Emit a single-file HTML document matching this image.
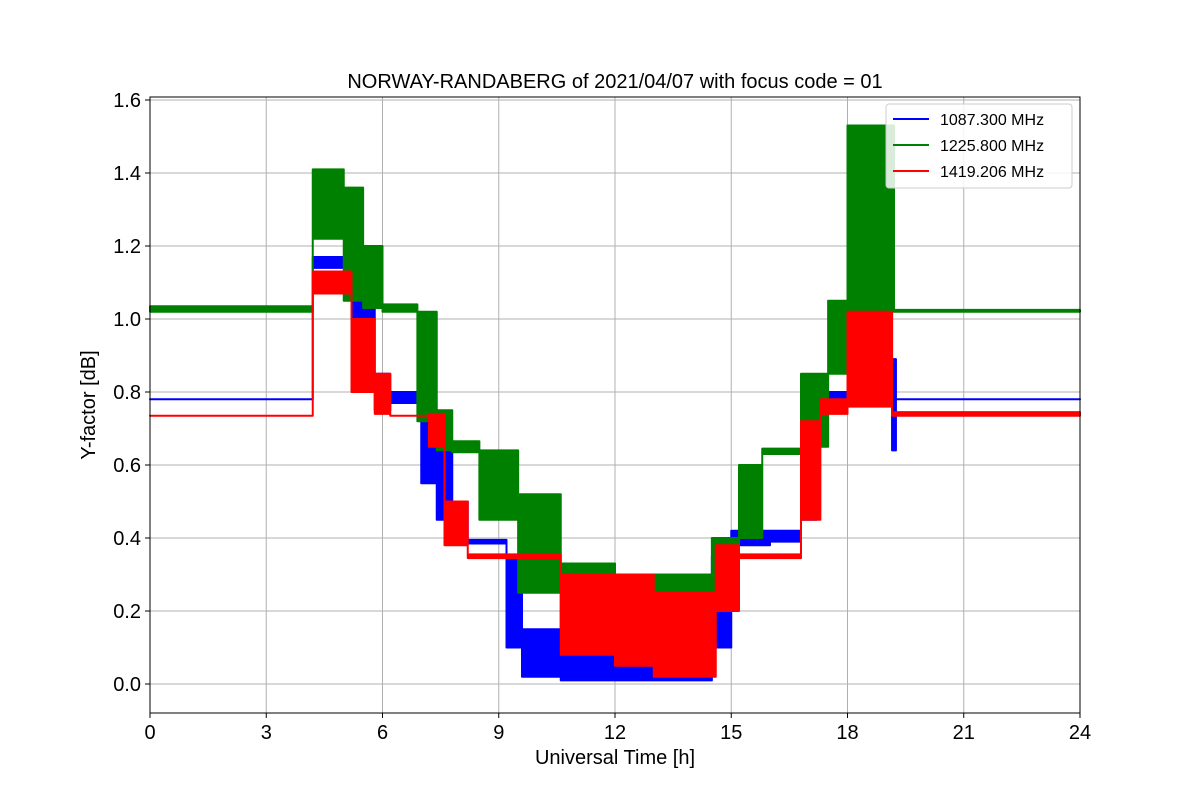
<!DOCTYPE html>
<html><head><meta charset="utf-8">
<style>
body{margin:0;background:#fff;}
svg text{font-family:"Liberation Sans","DejaVu Sans",sans-serif;}
</style></head>
<body>
<svg id="chart" width="1200" height="800" xmlns="http://www.w3.org/2000/svg">
<rect width="1200" height="800" fill="#fff"/>
<text x="615" y="88" font-size="20" text-anchor="middle">NORWAY-RANDABERG of 2021/04/07 with focus code = 01</text>
<g id="grid"></g>
<g id="series"></g>
<rect x="150" y="97" width="930" height="616" fill="none" stroke="#000" stroke-width="1"/>
<g id="ticks"></g>
<text x="615" y="764" font-size="20" text-anchor="middle">Universal Time [h]</text>
<text x="95" y="405" font-size="20" text-anchor="middle" transform="rotate(-90 95 405)">Y-factor [dB]</text>
<g>
<rect x="886" y="104" width="186" height="84" rx="3" fill="#fff" fill-opacity="0.85" stroke="#ccc"/>
<line x1="893" y1="119" x2="929" y2="119" stroke="#0000ff" stroke-width="2"/>
<text x="940" y="125" font-size="16">1087.300 MHz</text>
<line x1="893" y1="145" x2="929" y2="145" stroke="#008000" stroke-width="2"/>
<text x="940" y="151" font-size="16">1225.800 MHz</text>
<line x1="893" y1="171" x2="929" y2="171" stroke="#ff0000" stroke-width="2"/>
<text x="940" y="177" font-size="16">1419.206 MHz</text>
</g>
</svg>
<script>
const xTicks=[0,3,6,9,12,15,18,21,24];
const yTicks=[0.0,0.2,0.4,0.6,0.8,1.0,1.2,1.4,1.6];
const blueT=[0,4.2,5.2,5.5,5.8,6.2,7.0,7.4,7.8,8.2,9.2,9.6,10.6,12,14.5,15,16,16.8,17.2,18,19.15,19.25,24];
const blueLo=[0.78,1.14,0.95,0.9,0.75,0.77,0.55,0.45,0.4,0.385,0.1,0.02,0.01,0.01,0.1,0.38,0.39,0.45,0.77,0.8,0.64,0.78];
const blueHi=[0.78,1.17,1.08,1.05,0.85,0.8,0.75,0.65,0.5,0.395,0.35,0.15,0.2,0.2,0.35,0.42,0.42,0.7,0.8,1.2,0.89,0.78];
const greenT=[0,4.2,5.0,5.5,6.0,6.9,7.4,7.8,8.5,9.5,10.6,12,14.5,15.2,15.8,16.8,17.5,18,19.2,24];
const greenLo=[1.02,1.22,1.05,1.03,1.02,0.72,0.64,0.635,0.45,0.25,0.2,0.15,0.25,0.4,0.63,0.65,0.85,1.02,1.02];
const greenHi=[1.035,1.41,1.36,1.2,1.04,1.02,0.75,0.665,0.64,0.52,0.33,0.3,0.4,0.6,0.645,0.85,1.05,1.53,1.025];
const redT=[0,4.2,5.2,5.8,6.2,7.2,7.6,8.2,10.6,12,13,14.6,15.2,16.8,17.3,18,19.15,24];
const redLo=[0.735,1.07,0.8,0.74,0.735,0.65,0.38,0.345,0.08,0.05,0.02,0.2,0.345,0.45,0.74,0.76,0.735];
const redHi=[0.735,1.13,1.0,0.85,0.735,0.74,0.5,0.355,0.3,0.3,0.25,0.38,0.355,0.72,0.78,1.02,0.745];
const X=t=>150+t*930/24;
const Y=v=>684-v*365;
const NS='http://www.w3.org/2000/svg';
const grid=document.getElementById('grid'),ticks=document.getElementById('ticks'),ser=document.getElementById('series');
function mk(tag,attrs,parent){const e=document.createElementNS(NS,tag);for(const k in attrs)e.setAttribute(k,attrs[k]);parent.appendChild(e);return e;}
xTicks.forEach(t=>{
 const g=mk('line',{x1:X(t),x2:X(t),y1:97,y2:713,stroke:'#b0b0b0','stroke-width':1},grid);
 
 
 mk('line',{x1:X(t),x2:X(t),y1:713,y2:718,stroke:'#000'},ticks);
 const l=mk('text',{x:X(t),y:739,'font-size':20,'text-anchor':'middle'},ticks);
 l.textContent=t;
 
 
});
yTicks.forEach(v=>{
 const g=mk('line',{x1:150,x2:1080,y1:Y(v),y2:Y(v),stroke:'#b0b0b0','stroke-width':1},grid);
 
 
 mk('line',{x1:145,x2:150,y1:Y(v),y2:Y(v),stroke:'#000'},ticks);
 const l=mk('text',{x:141,y:Y(v)+7,'font-size':20,'text-anchor':'end'},ticks);
 l.textContent=v.toFixed(1);
 
 
});
function band(T,lo,hi,color,name){
 let up=[],dn=[];
 for(let i=0;i<lo.length;i++){
  up.push(X(T[i])+','+Y(hi[i]),X(T[i+1])+','+Y(hi[i]));
  dn.push(X(T[i])+','+Y(lo[i]),X(T[i+1])+','+Y(lo[i]));
 }
 const p=mk('polygon',{points:up.concat(dn.reverse()).join(' '),fill:color,stroke:color,'stroke-width':2,'stroke-linejoin':'round'},ser);
 
 
}
band(blueT,blueLo,blueHi,'#0000ff','series-1087-mhz');
band(greenT,greenLo,greenHi,'#008000','series-1225-mhz');
band(redT,redLo,redHi,'#ff0000','series-1419-mhz');
</script>
</body></html>
